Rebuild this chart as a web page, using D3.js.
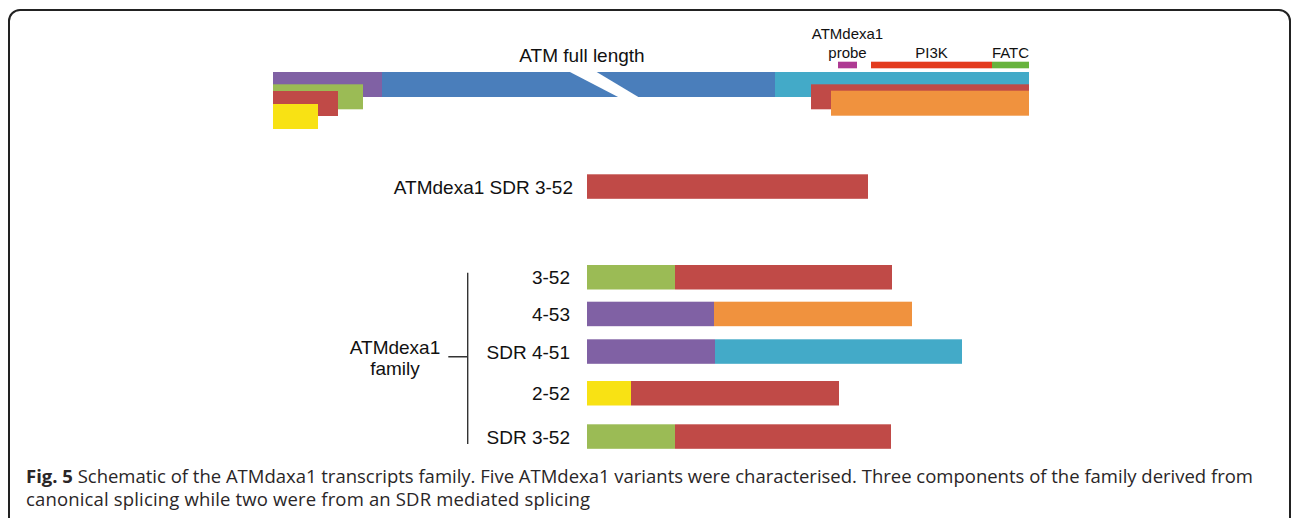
<!DOCTYPE html>
<html>
<head>
<meta charset="utf-8">
<script src="https://cdn.jsdelivr.net/npm/d3@7"></script>
<style>
  body { margin: 0; background: #fff; }
  svg { display: block; }
</style>
</head>
<body>
<div id="fig"></div>
<script>
// ---- data (schematic units, full length ATM = 0..756) ----
var fullParts = ["purple", "blue", "cyan"];
var fullBreaks = [0, 109, 502, 756];
var breakTop = [295, 322];       // white slash, top edge
var breakBottom = [347, 367];    // white slash, bottom edge

var leftStack = ["green", "red", "yellow"];
var leftEnds = [90, 65, 45];
var rightStack = ["red", "orange"];
var rightStarts = [538, 558];

var domainNames = [["ATMdexa1", "probe"], ["PI3K"], ["FATC"]];
var domainStart = [565, 598, 719];
var domainEnd = [584, 719, 756];
var domainColors = ["#ae3a93", "#e33b1e", "#67b33d"];

var sdrLabel = "ATMdexa1 SDR 3-52";
var sdrStart = 314;
var sdrEnd = 595;

var familyLabels = ["3-52", "4-53", "SDR 4-51", "2-52", "SDR 3-52"];
var familyFirst = ["green", "purple", "purple", "yellow", "green"];
var familySecond = ["red", "orange", "cyan", "red", "red"];
var familyStart = [314, 314, 314, 314, 314];
var familySplit = [402, 441, 442, 358, 402];
var familyEnd = [619, 639, 689, 566, 618];

var palette = {
    purple: "#8061a4",
    blue: "#4a7ebb",
    cyan: "#43aac8",
    green: "#9bbb55",
    red: "#c04a47",
    yellow: "#f8e214",
    orange: "#f0923e"
};

var captionLines = [
    ["Fig. 5", " Schematic of the ATMdaxa1 transcripts family. Five ATMdexa1 variants were characterised. Three components of the family derived from"],
    ["", "canonical splicing while two were from an SDR mediated splicing"]
];

// ---- layout ----
var W = 1292, H = 518;
var fullTop = 72, barH = 25;
var leftTops = [84.3, 91, 104];
var rightTops = [84.3, 90.7];
var domainTop = 61.7, domainH = 6.6;
var sdrTop = 174.3;
var rowTops = [265, 301.7, 339.3, 381, 424.3], rowH = 24.5;
var captionWidths = [1227, 564];

var svg = d3.select("#fig").append("svg")
    .attr("width", W)
    .attr("height", H);

var x = d3.scaleLinear()
    .domain([0, 756])
    .range([273, 1029]);

// frame
svg.append("rect")
    .attr("x", 9).attr("y", 10)
    .attr("width", 1281).attr("height", 600)
    .attr("rx", 11)
    .attr("fill", "none")
    .attr("stroke", "#222")
    .attr("stroke-width", 2);

var font = "'Liberation Sans', Arial, sans-serif";

// full length bar
var full = svg.append("g");
full.selectAll("rect")
    .data(fullParts)
    .enter()
    .append("rect")
    .attr("x", (d, i) => x(fullBreaks[i]))
    .attr("y", fullTop)
    .attr("width", (d, i) => x(fullBreaks[i + 1]) - x(fullBreaks[i]))
    .attr("height", barH)
    .attr("fill", d => palette[d]);

full.append("polygon")
    .attr("points", [
        [x(breakTop[0]), fullTop - 1], [x(breakTop[1]), fullTop - 1],
        [x(breakBottom[1]), fullTop + barH + 1], [x(breakBottom[0]), fullTop + barH + 1]
    ].join(" "))
    .attr("fill", "#fff");

svg.append("text")
    .attr("x", 582).attr("y", 62.3)
    .attr("text-anchor", "middle")
    .style("font", "19px " + font)
    .attr("fill", "#111")
    .text("ATM full length");

// stacked start exons (left) and end exons (right)
svg.append("g").selectAll("rect")
    .data(leftStack)
    .enter()
    .append("rect")
    .attr("x", x(0))
    .attr("y", (d, i) => leftTops[i])
    .attr("width", (d, i) => x(leftEnds[i]) - x(0))
    .attr("height", barH)
    .attr("fill", d => palette[d]);

svg.append("g").selectAll("rect")
    .data(rightStack)
    .enter()
    .append("rect")
    .attr("x", (d, i) => x(rightStarts[i]))
    .attr("y", (d, i) => rightTops[i])
    .attr("width", (d, i) => x(756) - x(rightStarts[i]))
    .attr("height", barH)
    .attr("fill", d => palette[d]);

// domains
var dom = svg.append("g");
dom.selectAll("rect")
    .data(domainNames)
    .enter()
    .append("rect")
    .attr("x", (d, i) => x(domainStart[i]))
    .attr("y", domainTop)
    .attr("width", (d, i) => x(domainEnd[i]) - x(domainStart[i]))
    .attr("height", domainH)
    .attr("fill", (d, i) => domainColors[i]);

dom.selectAll("text")
    .data(domainNames)
    .enter()
    .append("text")
    .attr("text-anchor", "middle")
    .attr("x", (d, i) => (x(domainStart[i]) + x(domainEnd[i])) / 2)
    .attr("y", d => 57.5 - (d.length - 1) * 18.5)
    .style("font", "15px " + font)
    .attr("fill", "#111")
    .selectAll("tspan")
    .data(d => d)
    .enter()
    .append("tspan")
    .attr("x", function() { return this.parentNode.getAttribute("x"); })
    .attr("dy", (d, i) => i ? 18.5 : 0)
    .text(d => d);

// single SDR transcript
svg.append("rect")
    .attr("x", x(sdrStart))
    .attr("y", sdrTop)
    .attr("width", x(sdrEnd) - x(sdrStart))
    .attr("height", rowH)
    .attr("fill", palette.red);
svg.append("text")
    .attr("x", 573).attr("y", sdrTop + rowH / 2 + 7)
    .attr("text-anchor", "end")
    .style("font", "19px " + font)
    .attr("fill", "#111")
    .text(sdrLabel);

// family rows
var rows = svg.append("g").selectAll("g")
    .data(familyLabels)
    .enter()
    .append("g");

rows.append("rect")
    .attr("x", (d, i) => x(familyStart[i]))
    .attr("y", (d, i) => rowTops[i])
    .attr("width", (d, i) => x(familySplit[i]) - x(familyStart[i]))
    .attr("height", rowH)
    .attr("fill", (d, i) => palette[familyFirst[i]]);

rows.append("rect")
    .attr("x", (d, i) => x(familySplit[i]))
    .attr("y", (d, i) => rowTops[i])
    .attr("width", (d, i) => x(familyEnd[i]) - x(familySplit[i]))
    .attr("height", rowH)
    .attr("fill", (d, i) => palette[familySecond[i]]);

rows.append("text")
    .attr("x", 570)
    .attr("y", (d, i) => rowTops[i] + rowH / 2 + 7)
    .attr("text-anchor", "end")
    .style("font", "19px " + font)
    .attr("fill", "#111")
    .text(d => d);

// bracket
svg.append("path")
    .attr("d", "M467.7,272.7V444M448.3,356.7H467.7")
    .attr("fill", "none")
    .attr("stroke", "#333")
    .attr("stroke-width", 1.4);

svg.append("text")
    .attr("text-anchor", "middle")
    .attr("x", 395).attr("y", 354)
    .style("font", "19px " + font)
    .attr("fill", "#111")
    .selectAll("tspan")
    .data(["ATMdexa1", "family"])
    .enter()
    .append("tspan")
    .attr("x", 395)
    .attr("dy", (d, i) => i ? 21 : 0)
    .text(d => d);

// caption
var cap = svg.append("g")
    .style("font", "18.5px 'Open Sans', sans-serif")
    .attr("fill", "#2a2627");
captionLines.forEach(function(line, i) {
    var t = cap.append("text")
        .attr("x", 26)
        .attr("y", 483 + i * 22.5)
        .attr("textLength", captionWidths[i])
        .attr("lengthAdjust", "spacing");
    if (line[0]) {
        t.append("tspan").attr("font-weight", "bold").text(line[0]);
    }
    t.append("tspan").text(line[1]);
});
</script>
</body>
</html>
